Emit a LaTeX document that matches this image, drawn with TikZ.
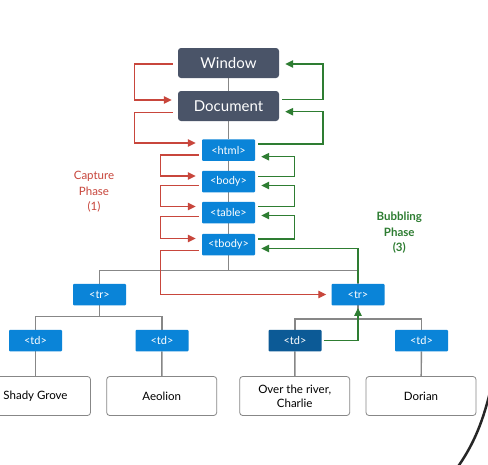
\documentclass[tikz,border=0pt]{standalone}
\usepackage{fontspec}
\setmainfont{Lato}
\usetikzlibrary{arrows.meta,calc,positioning,backgrounds}
\definecolor{slatebox}{HTML}{4A5468}
\definecolor{tagblue}{HTML}{0A84D8}
\definecolor{tagdark}{HTML}{0C5A96}
\definecolor{capred}{HTML}{C8463C}
\definecolor{bubgreen}{HTML}{2E7D32}
\definecolor{treegray}{HTML}{878787}
\tikzset{
    dm top/.style={rectangle, rounded corners=3pt, fill=slatebox,
                   text=white, minimum width=101pt, minimum height=30pt,
                   font=\fontsize{15}{18}\selectfont},
    dm tag/.style={rectangle, rounded corners=1pt, fill=tagblue,
                   text=white, minimum width=53pt, minimum height=21.5pt,
                   inner sep=1pt, font=\fontsize{11}{13}\selectfont},
    dm hit/.style={dm tag, fill=tagdark},
    dm leaf/.style={rectangle, rounded corners=3pt, draw=treegray, thick,
                    fill=white, minimum width=110pt, minimum height=39pt,
                    align=center, font=\fontsize{11.5}{14}\selectfont},
    dm line/.style={draw=treegray, line width=1.4pt},
    % Event flow styles
    ev cap/.style={draw=capred, line width=1.2pt,
                   -{Triangle[length=8pt,width=7.5pt]},
                   shorten <=3pt, shorten >=6pt},
    ev bub/.style={draw=bubgreen, line width=1.2pt,
                   -{Triangle[length=8pt,width=7.5pt]},
                   shorten <=3pt, shorten >=6pt},
    ev lbl/.style={align=center, font=\fontsize{11.5}{15.5}\selectfont},
}

\begin{document}
\begin{tikzpicture}[x=1pt, y=-1pt]
    \useasboundingbox (0,0) rectangle (488,464);
    % Tree nodes
    \node[dm top] (win) at (228.5, 63) {Window};
    \node[dm top] (doc) at (228.5, 106) {Document};
    \node[dm tag] (html) at (228.5, 150) {<html>};
    \node[dm tag] (body) at (228.5, 181.5) {<body>};
    \node[dm tag] (tbl) at (228.5, 212.5) {<table>};
    \node[dm tag] (tbody) at (228.5, 244.5) {<tbody>};
    \node[dm tag] (trL) at (99.5, 294.5) {<tr>};
    \node[dm tag] (trR) at (358, 294.5) {<tr>};
    \node[dm tag] (tdA) at (35.5, 340.5) {<td>};
    \node[dm tag] (tdB) at (162, 340.5) {<td>};
    \node[dm hit] (tdC) at (295, 340.5) {<td>};
    \node[dm tag] (tdD) at (421.5, 340.5) {<td>};
    \node[dm leaf] (leafA) at (35.5, 396) {Shady Grove};
    \node[dm leaf] (leafB) at (161.7, 396) {Aeolion};
    \node[dm leaf] (leafC) at (294.7, 396) {Over the river,\\Charlie};
    \node[dm leaf] (leafD) at (421, 396) {Dorian};
    % Tree lines
    \coordinate (bus) at (228.5, 270.7);
    \coordinate (busL) at (99.5, 316.7);
    \coordinate (busR) at (358, 319);
    \begin{scope}[on background layer]
    \fill[white] (0,0) rectangle (488,464);
    \draw[dm line] (win) -- (doc);
    \draw[dm line] (doc) -- (html);
    \draw[dm line] (html) -- (body);
    \draw[dm line] (body) -- (tbl);
    \draw[dm line] (tbl) -- (tbody);
    \draw[dm line] (tbody) -- (bus);
    \draw[dm line] (trL) |- (bus) -| (trR);
    \draw[dm line] (trL) -- (busL);
    \draw[dm line] (tdA) |- (busL) -| (tdB);
    \draw[dm line] (trR) -- (busR);
    \draw[dm line] (tdC) |- (busR) -| (tdD);
    \draw[dm line] (tdA) -- (leafA);
    \draw[dm line] (tdB) -- (leafB);
    \draw[dm line] (tdC) -- (leafC);
    \draw[dm line] (tdD) -- (leafD);
    \end{scope}
    % Capture phase
    \draw[ev cap, shorten <=5pt] ($(win.west)+(0,1)$) -- ++(-43,0)
        |- ($(doc.west)+(0,-6)$);
    \draw[ev cap, shorten <=5pt] ($(doc.west)+(0,6.7)$) -- ++(-43,0)
        |- ($(html.west)+(0,-7)$);
    \draw[ev cap] ($(html.west)+(0,5)$) -- ++(-41,0)
        |- ($(body.west)+(0,-5.5)$);
    \draw[ev cap] ($(body.west)+(0,4.2)$) -- ++(-41,0)
        |- ($(tbl.west)+(0,-6)$);
    \draw[ev cap] ($(tbl.west)+(0,4.2)$) -- ++(-41,0)
        |- ($(tbody.west)+(0,-6)$);
    \draw[ev cap, shorten >=5pt] ($(tbody.west)+(0,6)$) -- ++(-41,0)
        |- (trR.west);
    % Bubbling phase
    \draw[ev bub, shorten <=2pt, shorten >=2.5pt] (tdC.east) -| (trR.south);
    \draw[ev bub, shorten <=1pt] (trR.north) |- ($(tbody.east)+(0,4)$);
    \draw[ev bub] ($(tbody.east)+(0,-5.5)$) -- ++(39.3,0)
        |- ($(tbl.east)+(0,3)$);
    \draw[ev bub] ($(tbl.east)+(0,-6)$) -- ++(39.3,0)
        |- ($(body.east)+(0,4)$);
    \draw[ev bub] ($(body.east)+(0,-5)$) -- ++(39.3,0)
        |- ($(html.east)+(0,6.7)$);
    \draw[ev bub] ($(html.east)+(0,-6)$) -- ++(67.7,0)
        |- ($(doc.east)+(0,5.7)$);
    \draw[ev bub] ($(doc.east)+(0,-6.7)$) -- ++(43.7,0)
        |- ($(win.east)+(0,1)$);
    % Phase labels
    \node[ev lbl, text=capred] (capL) at (94, 192) {Capture\\Phase\\(1)};
    \node[ev lbl, text=bubgreen, font=\fontsize{11.5}{15.5}\selectfont\bfseries]
        (bubL) at (399.3, 232.7) {Bubbling\\Phase\\(3)};
    % Pen stroke
    \draw[line width=2.5pt, black!85, line cap=round]
        (490, 392) .. controls (482, 425) and (472, 447) .. (457, 468);
\end{tikzpicture}
\end{document}
